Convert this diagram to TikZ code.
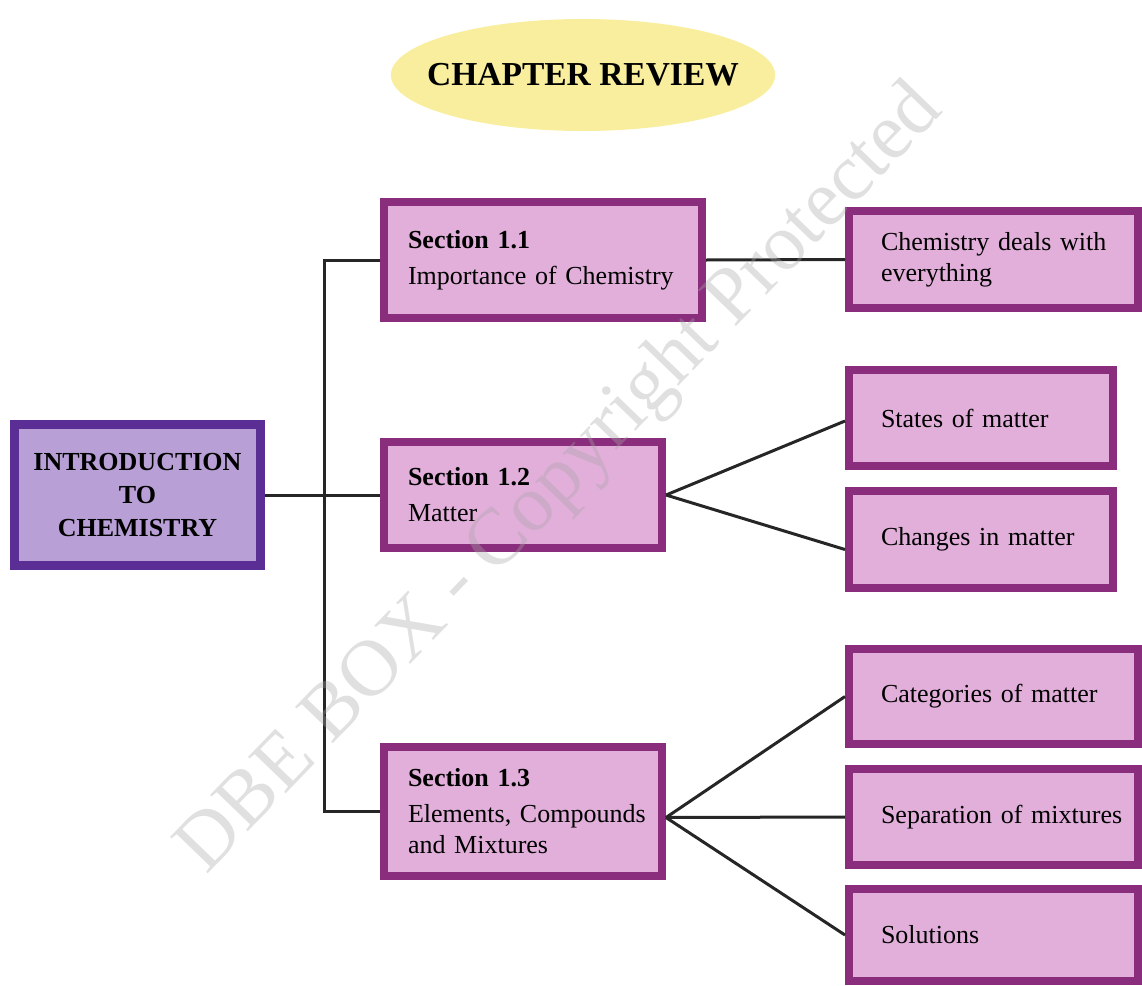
\documentclass[tikz,border=0pt]{standalone}
\usepackage{fontspec}
\setmainfont{Liberation Serif}
\usetikzlibrary{shapes.geometric}

\definecolor{introline}{HTML}{5B2E96}
\definecolor{introfill}{HTML}{B8A0D6}
\definecolor{boxline}{HTML}{8A2D7C}
\definecolor{boxfill}{HTML}{E2AFDB}
\definecolor{titlefill}{HTML}{F8EE9E}

\tikzset{
  titleoval/.style={ellipse, fill=titlefill, inner xsep=-20pt, inner ysep=0pt,
    font=\fontsize{33.5}{33.5}\selectfont\bfseries},
  introbox/.style={draw=introline, fill=introfill, line width=9pt, align=center,
    font=\fontsize{26}{33}\selectfont\bfseries},
  topicbox/.style={draw=boxline, fill=boxfill, line width=8pt, align=left,
    inner xsep=10pt, inner ysep=0pt, font=\fontsize{26}{31}\selectfont},
  lpad/.style={execute at begin node={\leftskip=#1}},
  link/.style={line width=3pt, black!85},
  watermark/.style={rotate=46, text=black!35, text opacity=.35,
    font=\fontsize{80}{80}\selectfont},
}

\begin{document}
\begin{tikzpicture}[x=1pt,y=-1pt]
  \useasboundingbox (0,0) rectangle (1142,985);

  % heading
  \node[titleoval, minimum width=378pt, minimum height=112pt] (title) at (583,75) {CHAPTER REVIEW};

  % main topic and sections
  \node[introbox, minimum width=246pt, minimum height=141pt] (intro) at (137.5,495)
    {INTRODUCTION\\TO\\CHEMISTRY};
  \node[topicbox, lpad=14pt, text width=298pt, minimum height=116pt] (sec11) at (543,260)
    {\textbf{Section 1.1}\\[5pt]Importance of Chemistry};
  \node[topicbox, lpad=14pt, text width=258pt, minimum height=106pt] (sec12) at (523,495)
    {\textbf{Section 1.2}\\[5pt]Matter};
  \node[topicbox, lpad=14pt, text width=258pt, minimum height=129pt] (sec13) at (523,811.5)
    {\textbf{Section 1.3}\\[5pt]Elements, Compounds\\and Mixtures};

  % details
  \node[topicbox, lpad=22pt, text width=269pt, minimum height=97pt] (deals) at (993.5,259.5)
    {Chemistry deals with\\everything};
  \node[topicbox, lpad=22pt, text width=244pt, minimum height=96pt] (states) at (981,418)
    {States of matter};
  \node[topicbox, lpad=22pt, text width=244pt, minimum height=97pt] (changes) at (981,539.5)
    {Changes in matter};
  \node[topicbox, lpad=22pt, text width=269pt, minimum height=95pt] (categ) at (993.5,696.5)
    {Categories of matter};
  \node[topicbox, lpad=22pt, text width=269pt, minimum height=96pt] (separ) at (993.5,817)
    {Separation of mixtures};
  \node[topicbox, lpad=22pt, text width=269pt, minimum height=92pt] (solut) at (993.5,935)
    {Solutions};

  % connectors
  \coordinate (trunk) at (324,495);
  \draw[link] (intro.east) -- (sec12.west);
  \draw[link] (sec11.west) -| (trunk) |- (sec13.west);
  \draw[link] (sec11.east) -- (deals.west);
  \draw[link] (sec12.east) -- ([yshift=-3pt]states.west);
  \draw[link] (sec12.east) -- ([yshift=-10pt]changes.west);
  \draw[link] ([yshift=-6pt]sec13.east) -- (categ.west);
  \draw[link] ([yshift=-6pt]sec13.east) -- (separ.west);
  \draw[link] ([yshift=-6pt]sec13.east) -- (solut.west);

  \node[watermark] (wmark) at (562,480) {DBE BOX - Copyright Protected};
\end{tikzpicture}
\end{document}
